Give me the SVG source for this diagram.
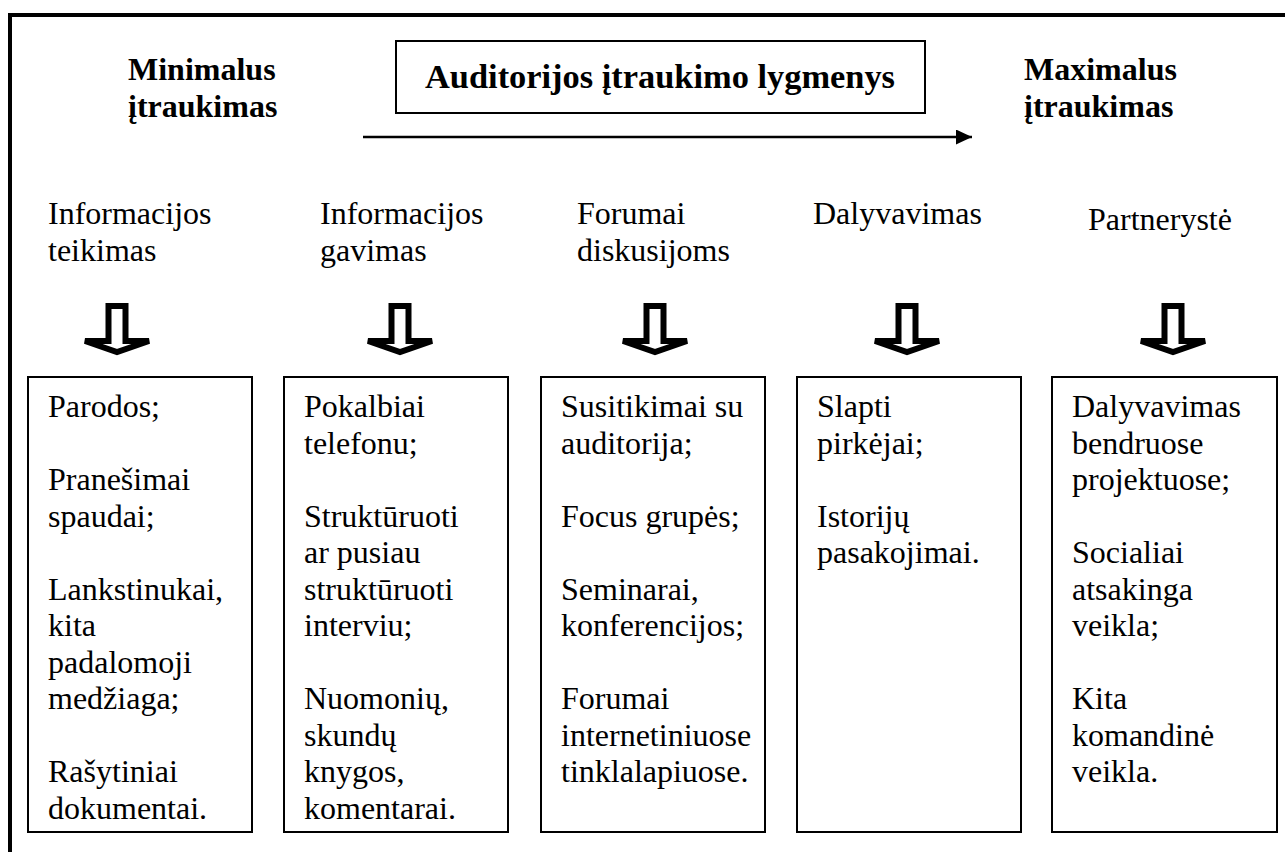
<svg xmlns="http://www.w3.org/2000/svg" width="1285" height="852" viewBox="0 0 1285 852">
<style>
text{font-family:"Liberation Serif","Times New Roman",serif;fill:#000}
.b{font-weight:bold;font-size:32px}
.t{font-weight:bold;font-size:34.4px}
.n{font-size:32px}
.box{fill:#fff;stroke:#000;stroke-width:2}
.blk{fill:#fff;stroke:#000;stroke-width:6;stroke-linejoin:miter}
</style>
<defs>
<marker id="ah" markerWidth="16" markerHeight="15" refX="16" refY="7.5" orient="auto" markerUnits="userSpaceOnUse">
<path d="M0,0 L16,7.5 L0,15 Z" fill="#000"/>
</marker>
<path id="darrow" d="M-8.5,306 L8.5,306 L8.5,341 L32,341 L0,352 L-32,341 L-8.5,341 Z"/>
</defs>
<g id="frame">
<line x1="10" y1="13" x2="10" y2="852" stroke="#000" stroke-width="4"/>
<line x1="8" y1="15" x2="1285" y2="15" stroke="#000" stroke-width="4"/>
</g>
<g id="min-label"><text class="b" x="128" y="80">Minimalus<tspan x="128" dy="37">įtraukimas</tspan></text></g>
<g id="max-label"><text class="b" x="1024" y="80">Maximalus<tspan x="1024" dy="37">įtraukimas</tspan></text></g>
<g id="title"><rect class="box" x="396" y="41" width="529" height="72"/><text class="t" x="660" y="88" text-anchor="middle">Auditorijos įtraukimo lygmenys</text></g>
<g id="connectors">
<line x1="363" y1="137" x2="972" y2="137" stroke="#000" stroke-width="2.5" marker-end="url(#ah)"/>
<use href="#darrow" class="blk" transform="translate(117,0)"/>
<use href="#darrow" class="blk" transform="translate(400,0)"/>
<use href="#darrow" class="blk" transform="translate(655,0)"/>
<use href="#darrow" class="blk" transform="translate(907,0)"/>
<use href="#darrow" class="blk" transform="translate(1173,0)"/>
</g>
<g id="h1"><text class="n" x="48" y="224">Informacijos<tspan x="48" dy="37">teikimas</tspan></text></g>
<g id="h2"><text class="n" x="320" y="224">Informacijos<tspan x="320" dy="37">gavimas</tspan></text></g>
<g id="h3"><text class="n" x="577" y="224">Forumai<tspan x="577" dy="37">diskusijoms</tspan></text></g>
<g id="h4"><text class="n" x="813" y="224">Dalyvavimas</text></g>
<g id="h5"><text class="n" x="1088" y="230">Partnerystė</text></g>
<g id="box1"><rect class="box" x="28" y="377" width="224" height="455"/>
<text class="n" x="48" y="417">Parodos;<tspan x="48" dy="73">Pranešimai</tspan><tspan x="48" dy="36.5">spaudai;</tspan><tspan x="48" dy="73">Lankstinukai,</tspan><tspan x="48" dy="36.5">kita</tspan><tspan x="48" dy="36.5">padalomoji</tspan><tspan x="48" dy="36.5">medžiaga;</tspan><tspan x="48" dy="73">Rašytiniai</tspan><tspan x="48" dy="36.5">dokumentai.</tspan></text></g>
<g id="box2"><rect class="box" x="284" y="377" width="224" height="455"/>
<text class="n" x="304" y="417">Pokalbiai<tspan x="304" dy="36.5">telefonu;</tspan><tspan x="304" dy="73">Struktūruoti</tspan><tspan x="304" dy="36.5">ar pusiau</tspan><tspan x="304" dy="36.5">struktūruoti</tspan><tspan x="304" dy="36.5">interviu;</tspan><tspan x="304" dy="73">Nuomonių,</tspan><tspan x="304" dy="36.5">skundų</tspan><tspan x="304" dy="36.5">knygos,</tspan><tspan x="304" dy="36.5">komentarai.</tspan></text></g>
<g id="box3"><rect class="box" x="541" y="377" width="224" height="455"/>
<text class="n" x="561" y="417">Susitikimai su<tspan x="561" dy="36.5">auditorija;</tspan><tspan x="561" dy="73">Focus grupės;</tspan><tspan x="561" dy="73">Seminarai,</tspan><tspan x="561" dy="36.5">konferencijos;</tspan><tspan x="561" dy="73">Forumai</tspan><tspan x="561" dy="36.5">internetiniuose</tspan><tspan x="561" dy="36.5">tinklalapiuose.</tspan></text></g>
<g id="box4"><rect class="box" x="797" y="377" width="224" height="455"/>
<text class="n" x="817" y="417">Slapti<tspan x="817" dy="36.5">pirkėjai;</tspan><tspan x="817" dy="73">Istorijų</tspan><tspan x="817" dy="36.5">pasakojimai.</tspan></text></g>
<g id="box5"><rect class="box" x="1052" y="377" width="225" height="455"/>
<text class="n" x="1072" y="417">Dalyvavimas<tspan x="1072" dy="36.5">bendruose</tspan><tspan x="1072" dy="36.5">projektuose;</tspan><tspan x="1072" dy="73">Socialiai</tspan><tspan x="1072" dy="36.5">atsakinga</tspan><tspan x="1072" dy="36.5">veikla;</tspan><tspan x="1072" dy="73">Kita</tspan><tspan x="1072" dy="36.5">komandinė</tspan><tspan x="1072" dy="36.5">veikla.</tspan></text></g>
</svg>
